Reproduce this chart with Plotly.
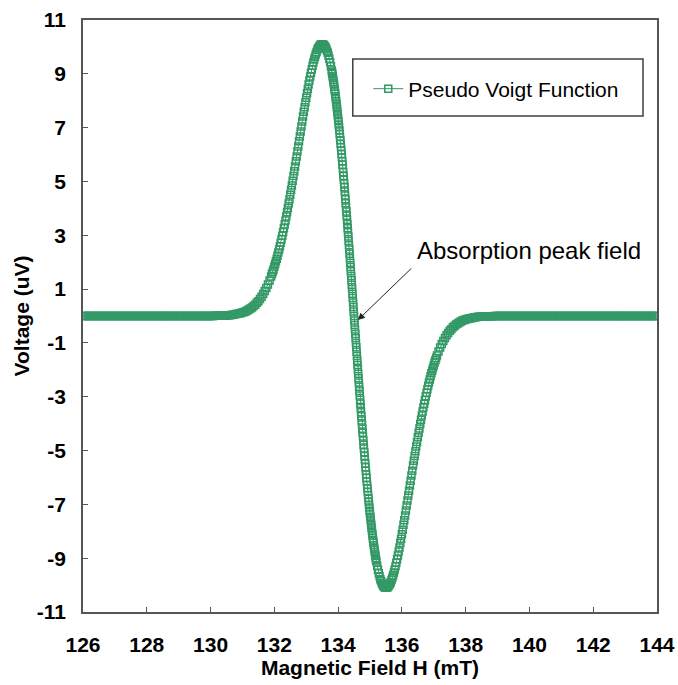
import plotly.graph_objects as go

# ---------------- data ----------------
# Five uniformly sampled segments of the same curve: start field and step (mT)
segment_start_mT = [126.00, 131.90, 133.80, 135.225, 137.15]
segment_step_mT = [0.05, 0.025, 0.01, 0.025, 0.05]

volt_seg1_uV = [
    0, 0, 0, 0, 0, 0, 0, 0, 0, 0, 0, 0, 0, 0, 0, 0, 0, 0, 0, 0,
    0, 0, 0, 0, 0, 0, 0, 0, 0, 0, 0, 0, 0, 0, 0, 0, 0, 0, 0, 0,
    0, 0, 0, 0, 0, 0, 0, 0, 0, 0, 0, 0, 0, 0, 0, 0, 0, 0, 0, 0,
    0, 0, 0, 0, 0, 0, 0, 0, 0, 0, 0, 0, 0, 0, 0, 0, 0, 0, 0, 0,
    0, 0, 0,
    0.01, 0.01, 0.01, 0.01, 0.01, 0.02, 0.02, 0.02, 0.03, 0.03,
    0.04, 0.05, 0.06, 0.07, 0.08, 0.09, 0.11, 0.13, 0.15, 0.17,
    0.20, 0.24, 0.28, 0.32, 0.37, 0.42, 0.49, 0.55, 0.63, 0.72,
    0.82, 0.93, 1.04, 1.17, 1.32,
]

volt_seg2_uV = [
    1.47, 1.56, 1.64, 1.73, 1.83, 1.93, 2.03, 2.13, 2.24, 2.36,
    2.47, 2.59, 2.72, 2.85, 2.98, 3.12, 3.26, 3.40, 3.55, 3.70,
    3.86, 4.01, 4.18, 4.34, 4.51, 4.68, 4.85, 5.03, 5.20, 5.38,
    5.56, 5.75, 5.93, 6.12, 6.30, 6.49, 6.67, 6.86, 7.04, 7.23,
    7.41, 7.59, 7.76, 7.94, 8.11, 8.28, 8.44, 8.60, 8.75, 8.90,
    9.04, 9.17, 9.30, 9.42, 9.53, 9.63, 9.73, 9.81, 9.89, 9.95,
    10.00, 10.04, 10.08, 10.09, 10.10, 10.09, 10.07, 10.04, 10.00, 9.94,
    9.86, 9.78, 9.67, 9.56, 9.43, 9.28,
]

volt_seg3_uV = [
    9.12, 9.06, 8.99, 8.91, 8.84, 8.76, 8.68, 8.60, 8.52, 8.43,
    8.35, 8.26, 8.16, 8.07, 7.97, 7.87, 7.77, 7.67, 7.56, 7.46,
    7.35, 7.24, 7.12, 7.01, 6.89, 6.77, 6.65, 6.53, 6.40, 6.28,
    6.15, 6.02, 5.89, 5.75, 5.62, 5.48, 5.34, 5.20, 5.06, 4.92,
    4.78, 4.63, 4.48, 4.34, 4.19, 4.03, 3.88, 3.73, 3.58, 3.42,
    3.26, 3.11, 2.95, 2.79, 2.63, 2.47, 2.31, 2.15, 1.98, 1.82,
    1.66, 1.49, 1.33, 1.16, 1.00, 0.83, 0.67, 0.50, 0.33, 0.17,
    0.00,
    -0.17, -0.33, -0.50, -0.67, -0.83, -1.00, -1.16, -1.33, -1.49, -1.66,
    -1.82, -1.98, -2.15, -2.31, -2.47, -2.63, -2.79, -2.95, -3.11, -3.26,
    -3.42, -3.58, -3.73, -3.88, -4.03, -4.19, -4.34, -4.48, -4.63, -4.78,
    -4.92, -5.06, -5.20, -5.34, -5.48, -5.62, -5.75, -5.89, -6.02, -6.15,
    -6.28, -6.40, -6.53, -6.65, -6.77, -6.89, -7.01, -7.12, -7.24, -7.35,
    -7.46, -7.56, -7.67, -7.77, -7.87, -7.97, -8.07, -8.16, -8.26, -8.35,
    -8.43, -8.52, -8.60, -8.68, -8.76, -8.84, -8.91, -8.99, -9.06, -9.12,
]

volt_seg4_uV = [
    -9.28, -9.43, -9.56, -9.67, -9.78, -9.86, -9.94, -10.00, -10.04, -10.07,
    -10.09, -10.10, -10.09, -10.08, -10.04, -10.00, -9.95, -9.89, -9.81, -9.73,
    -9.63, -9.53, -9.42, -9.30, -9.17, -9.04, -8.90, -8.75, -8.60, -8.44,
    -8.28, -8.11, -7.94, -7.76, -7.59, -7.41, -7.23, -7.04, -6.86, -6.67,
    -6.49, -6.30, -6.12, -5.93, -5.75, -5.56, -5.38, -5.20, -5.03, -4.85,
    -4.68, -4.51, -4.34, -4.18, -4.01, -3.86, -3.70, -3.55, -3.40, -3.26,
    -3.12, -2.98, -2.85, -2.72, -2.59, -2.47, -2.36, -2.24, -2.13, -2.03,
    -1.93, -1.83, -1.73, -1.64, -1.56, -1.47,
]

volt_seg5_uV = [
    -1.32, -1.17, -1.04, -0.93, -0.82, -0.72, -0.63, -0.55, -0.49, -0.42,
    -0.37, -0.32, -0.28, -0.24, -0.20, -0.17, -0.15, -0.13, -0.11, -0.09,
    -0.08, -0.07, -0.06, -0.05, -0.04, -0.03, -0.03, -0.02, -0.02, -0.02,
    -0.01, -0.01, -0.01, -0.01, -0.01,
    0, 0, 0, 0, 0, 0, 0, 0, 0, 0, 0, 0, 0, 0, 0, 0, 0, 0, 0, 0,
    0, 0, 0, 0, 0, 0, 0, 0, 0, 0, 0, 0, 0, 0, 0, 0, 0, 0, 0, 0,
    0, 0, 0, 0, 0, 0, 0, 0, 0, 0, 0, 0, 0, 0, 0, 0, 0, 0, 0, 0,
    0, 0, 0, 0, 0, 0, 0, 0, 0, 0, 0, 0, 0, 0, 0, 0, 0, 0, 0, 0,
    0, 0, 0, 0, 0, 0, 0, 0, 0, 0, 0, 0, 0, 0, 0, 0, 0, 0, 0, 0,
    0, 0, 0,
]

series_name = "Pseudo Voigt Function"
x_ticks = [126, 128, 130, 132, 134, 136, 138, 140, 142, 144]
y_ticks = [-11, -9, -7, -5, -3, -1, 1, 3, 5, 7, 9, 11]
annotation_text = "Absorption peak field"
arrow_tip = [134.62, -0.15]
arrow_tail = [136.34, 1.82]

# ---------------- figure ----------------
GREEN = "#339966"
AXIS = "#555555"
FONT = "Liberation Sans, Arial, sans-serif"

fig = go.Figure()
segments = [volt_seg1_uV, volt_seg2_uV, volt_seg3_uV, volt_seg4_uV, volt_seg5_uV]
for i, ys in enumerate(segments):
    fig.add_trace(go.Scatter(
        x0=segment_start_mT[i], dx=segment_step_mT[i], y=ys,
        mode="lines+markers",
        name=series_name,
        legendgroup="pv",
        showlegend=(i == 0),
        line=dict(color=GREEN, width=1),
        marker=dict(symbol="square-open", size=7, color=GREEN,
                    line=dict(color=GREEN, width=1.5)),
    ))

fig.update_layout(
    width=678, height=685,
    margin=dict(l=83, r=21, t=20, b=73),
    paper_bgcolor="white", plot_bgcolor="white",
    font=dict(family=FONT, color="black"),
    legend=dict(x=0.497, y=0.8834, xanchor="left", yanchor="middle",
                bgcolor="rgba(0,0,0,0)", borderwidth=0,
                font=dict(size=21, family=FONT, color="black")),
)

fig.update_xaxes(
    range=[126, 144], tickvals=x_ticks, ticktext=[str(t) for t in x_ticks],
    ticks="inside", ticklen=5, tickcolor=AXIS, tickwidth=1,
    showline=True, linecolor=AXIS, linewidth=1.5, mirror=True,
    showgrid=False, zeroline=False, automargin=False,
    tickfont=dict(size=21, weight="bold", family=FONT),
    ticklabelstandoff=13,
    title=dict(text="Magnetic Field H (mT)", standoff=3,
               font=dict(size=21, weight="bold", family=FONT)),
)
fig.update_yaxes(
    range=[-11, 11], tickvals=y_ticks, ticktext=[str(t) for t in y_ticks],
    ticks="inside", ticklen=5, tickcolor=AXIS, tickwidth=1,
    showline=True, linecolor=AXIS, linewidth=1.5, mirror=True,
    showgrid=False, zeroline=False, automargin=False,
    tickfont=dict(size=21, weight="bold", family=FONT),
    ticklabelstandoff=11,
    title=dict(text="Voltage (uV)", standoff=1,
               font=dict(size=21, weight="bold", family=FONT)),
)

# legend frame
fig.add_shape(type="rect", xref="paper", yref="paper",
              x0=0.470, x1=0.9756, y0=0.838, y1=0.934,
              line=dict(color="#404040", width=1.5), fillcolor="rgba(0,0,0,0)")

# arrow
fig.add_annotation(
    x=arrow_tip[0], y=arrow_tip[1], ax=arrow_tail[0], ay=arrow_tail[1],
    xref="x", yref="y", axref="x", ayref="y",
    text="", showarrow=True, arrowhead=2, arrowsize=1.4, arrowwidth=1,
    arrowcolor="#222222", standoff=0, startstandoff=0,
)
# annotation text
fig.add_annotation(
    x=0.578, y=0.6098, xref="paper", yref="paper",
    xanchor="left", yanchor="middle", showarrow=False,
    text=annotation_text, font=dict(size=24, family=FONT, color="black"),
)

# remove the default 8px page margin so the figure fills the window exactly
fig.write_html(
    "out.html",
    config={"displayModeBar": False},
    post_script="document.body.style.margin='0px';"
                "document.body.style.overflow='hidden';",
)
